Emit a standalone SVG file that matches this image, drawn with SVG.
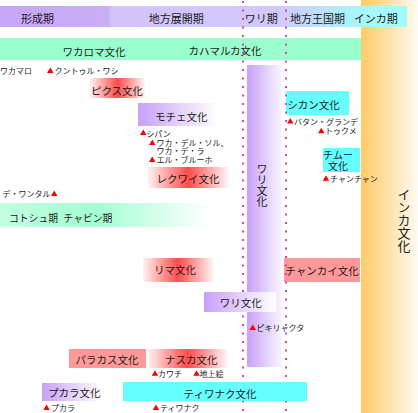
<svg xmlns="http://www.w3.org/2000/svg" width="418" height="413" viewBox="0 0 418 413">
<defs>
<linearGradient id="gHead" x1="0" y1="0" x2="1" y2="0">
<stop offset="0" stop-color="#c6a6f6"/>
<stop offset="0.265" stop-color="#caaef6"/>
<stop offset="0.275" stop-color="#d3c4fa"/>
<stop offset="0.68" stop-color="#d2c8fa"/>
<stop offset="0.8" stop-color="#bce2fa"/>
<stop offset="0.87" stop-color="#a6f6fc"/>
<stop offset="1" stop-color="#a0fcfc"/>
</linearGradient>
<linearGradient id="gInca" x1="0" y1="0" x2="1" y2="0">
<stop offset="0" stop-color="#ffcb66"/>
<stop offset="1" stop-color="#fffaf2"/>
</linearGradient>
<linearGradient id="gPurple" x1="0" y1="0" x2="1" y2="0">
<stop offset="0" stop-color="#c8a0f8"/>
<stop offset="1" stop-color="#ffffff"/>
</linearGradient>
<linearGradient id="gPurpleBar" x1="0" y1="0" x2="1" y2="0">
<stop offset="0" stop-color="#c8a0f8"/>
<stop offset="1" stop-color="#faf6ff"/>
</linearGradient>
<linearGradient id="gRed" x1="0" y1="0" x2="1" y2="0">
<stop offset="0" stop-color="#fff2f2"/>
<stop offset="0.5" stop-color="#ff4c4c"/>
<stop offset="1" stop-color="#fff4f4"/>
</linearGradient>
<linearGradient id="gGreen" x1="0" y1="0" x2="1" y2="0">
<stop offset="0" stop-color="#c4ffe2"/>
<stop offset="0.45" stop-color="#a2ffd2"/>
<stop offset="1" stop-color="#ffffff"/>
</linearGradient>
<path id="tri" d="M0,0 L6.5,0 L3.25,-5.5 Z" fill="#ff0000"/>
</defs>
<style>
text{font-family:"Noto Sans CJK JP","Noto Sans",sans-serif;fill:#1a1a1a}
.h{font-size:11px;text-anchor:middle}
.b{font-size:10.5px;text-anchor:middle}
.s{font-size:8px}
.dot{stroke:#dd44aa;stroke-width:2;stroke-dasharray:2 6.5;fill:none}
</style>

<g id="inca-column">
<rect x="361" y="0" width="57" height="413" fill="url(#gInca)"/>
<text x="404" y="188" style="font-size:13px;writing-mode:vertical-rl">インカ文化</text>
</g>

<g id="header">
<rect x="0" y="6" width="407" height="21" fill="url(#gHead)"/>
<text class="h" x="37.5" y="22.5">形成期</text>
<text class="h" x="176.3" y="22.5">地方展開期</text>
<text class="h" x="261.2" y="22.5">ワリ期</text>
<text class="h" x="317.5" y="22.5">地方王国期</text>
<text class="h" x="375.7" y="22.5">インカ期</text>
</g>

<g id="band-green">
<rect x="0" y="38" width="361" height="22" fill="#99ffcc"/>
<text class="b" x="94" y="55.5">ワカロマ文化</text>
<text class="b" x="225" y="55">カハマルカ文化</text>
</g>

<g id="chancay">
<rect x="284" y="258" width="76" height="24" fill="#ff9999"/>
<text class="b" x="322" y="275">チャンカイ文化</text>
</g>

<g id="sican">
<rect x="286" y="91" width="63" height="24" fill="#66ffff"/>
<text class="b" x="313.5" y="108.5">シカン文化</text>
</g>

<g id="connectors">
<line class="dot" x1="243" y1="1" x2="243" y2="413"/>
<line class="dot" x1="286" y1="1" x2="286" y2="413"/>
</g>

<g id="wari-bar">
<rect x="247" y="65" width="35" height="302" fill="url(#gPurpleBar)"/>
<text x="262" y="163" style="font-size:11px;writing-mode:vertical-rl">ワリ文化</text>
</g>

<g id="wakamaro">
<text class="s" x="0" y="74">ワカマロ</text>
<use href="#tri" x="47" y="73"/>
<text class="s" x="54.5" y="74">クントゥル・ワシ</text>
</g>

<g id="pikusu">
<rect x="90" y="78" width="55" height="20" fill="url(#gRed)"/>
<text class="b" x="117" y="94.5">ピクス文化</text>
</g>

<g id="moche">
<rect x="138" y="103" width="80" height="23" fill="url(#gPurple)"/>
<text class="b" x="181.3" y="121">モチェ文化</text>
<use href="#tri" x="140" y="135"/>
<use href="#tri" x="149" y="145"/>
<use href="#tri" x="149" y="162"/>
<text class="s"><tspan x="146.5" y="136.5">シパン</tspan><tspan x="156.5" y="145.5">ワカ・デル・ソル、</tspan><tspan x="156.5" y="153.5">ワカ・デ・ラ</tspan><tspan x="156.5" y="162.5">エル・ブルーホ</tspan></text>
</g>

<g id="recuay">
<rect x="148" y="167" width="80" height="21" fill="url(#gRed)"/>
<text class="b" x="188" y="183">レクワイ文化</text>
</g>

<g id="de-wantar">
<text class="s" x="2.5" y="196.5">デ・ワンタル</text>
<use href="#tri" x="51" y="196"/>
</g>

<g id="kotosh-chavin">
<rect x="0" y="203" width="210" height="24" fill="url(#gGreen)"/>
<text x="9" y="221.5" style="font-size:9.8px">コトシュ期</text>
<text x="63.5" y="221.5" style="font-size:9.8px">チャビン期</text>
</g>

<g id="sican-sites">
<use href="#tri" x="287" y="123.5"/>
<text class="s" x="294" y="124.5">バタン・グランデ</text>
<use href="#tri" x="318" y="133.3"/>
<text class="s" x="325" y="134">トゥクメ</text>
</g>

<g id="chimu">
<rect x="323" y="148" width="37" height="24" fill="#66ffff"/>
<text style="font-size:10px;text-anchor:middle"><tspan x="338" y="159">チムー</tspan><tspan x="338" y="169.5">文化</tspan></text>
<use href="#tri" x="322.7" y="180.7"/>
<text class="s" x="330" y="181.5">チャンチャン</text>
</g>

<g id="lima">
<rect x="143" y="258" width="70" height="24" fill="url(#gRed)"/>
<text class="b" x="175" y="273.5">リマ文化</text>
</g>

<g id="wari">
<rect x="204" y="292" width="72" height="20" fill="url(#gPurple)"/>
<text class="b" x="240.7" y="306.5">ワリ文化</text>
</g>

<g id="pikillacta">
<use href="#tri" x="249.5" y="330"/>
<text class="s" x="256.5" y="331">ピキリャクタ</text>
</g>

<g id="paracas">
<rect x="69" y="349" width="77" height="19" fill="#ff9999"/>
<text class="b" x="107" y="363.5">パラカス文化</text>
</g>

<g id="nasca">
<rect x="148" y="349" width="79" height="19" fill="url(#gRed)"/>
<text class="b" x="191.3" y="363.5">ナスカ文化</text>
<use href="#tri" x="151.7" y="375.7"/>
<text class="s" x="158" y="376.5">カワチ</text>
<use href="#tri" x="193.3" y="375.7"/>
<text class="s" x="199.5" y="376.5">地上絵</text>
</g>

<g id="pucara">
<rect x="42" y="383" width="60" height="18" fill="url(#gPurple)"/>
<text class="b" x="74.3" y="397">プカラ文化</text>
<use href="#tri" x="43.3" y="410"/>
<text class="s" x="51" y="411">プカラ</text>
</g>

<g id="tiwanaku">
<rect x="123" y="382" width="184" height="19" fill="#66ffff"/>
<text class="b" x="220" y="397.5">ティワナク文化</text>
<use href="#tri" x="152.7" y="410"/>
<text class="s" x="160" y="411">ティワナク</text>
</g>
</svg>
